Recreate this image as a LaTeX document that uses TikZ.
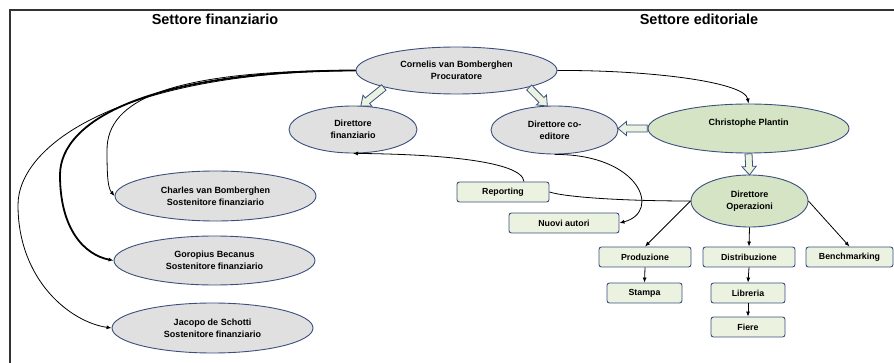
\documentclass[tikz,border=0pt]{standalone}
\usepackage{fontspec}
\setmainfont{Liberation Sans}
\usetikzlibrary{shapes.geometric,shapes.arrows,arrows.meta,calc}
\definecolor{bordc}{HTML}{3B4F7E}
\definecolor{grayfill}{HTML}{E0E0E0}
\definecolor{greenfill}{HTML}{D5E4C4}
\definecolor{boxfill}{HTML}{EBF2E0}
\definecolor{framec}{HTML}{333333}
\tikzset{
  ell/.style={ellipse, draw=bordc, line width=0.9pt, inner sep=0pt, align=center,
    font=\bfseries\fontsize{9}{12}\selectfont},
  grayell/.style={ell, fill=grayfill},
  greenell/.style={ell, fill=greenfill},
  box/.style={rectangle, rounded corners=2.5pt, draw=bordc, line width=0.9pt, fill=boxfill,
    minimum height=20pt, inner sep=0pt, font=\bfseries\fontsize{8.8}{10}\selectfont},
  title/.style={font=\bfseries\fontsize{14.5}{16}\selectfont},
  conn/.style={draw=black, line width=0.8pt, -{Latex[length=5pt,width=4pt]}},
  plainconn/.style={draw=black, line width=0.8pt},
  fatarr/.style={single arrow, draw=bordc, fill=boxfill, line width=0.8pt, inner sep=3.1pt,
    single arrow head extend=3.6pt, single arrow tip angle=80, anchor=tail},
  framel/.style={draw=framec, line width=2pt}
}
\newcommand\fatarrow[2]{%
  \path let \p1=(#1), \p2=(#2) in
    node[fatarr, rotate={atan2(\y2-\y1,\x2-\x1)},
      minimum height={veclen(\x2-\x1,\y2-\y1)}] at (\p1) {};}
\begin{document}
\begin{tikzpicture}[x=1pt,y=-1pt]
\useasboundingbox (0,0) rectangle (894,363);
\draw[framel] (9.5,363) -- (9.5,10.5) -- (894,10.5);

\node[title] (t1) at (215,19.5) {Settore finanziario};
\node[title] (t2) at (699,19.5) {Settore editoriale};

\node[grayell, minimum width=201pt, minimum height=47pt] (cor) at (456.5,70.5) {Cornelis van Bomberghen\\Procuratore};
\node[grayell, minimum width=128pt, minimum height=47pt] (dfin) at (353,129.5) {Direttore\\finanziario};
\node[grayell, minimum width=127pt, minimum height=48pt] (dco) at (554.5,130) {Direttore co-\\editore};
\node[greenell, minimum width=201pt, minimum height=49pt] (pla) at (748.5,128.5) {Christophe Plantin\\\phantom{X}};
\node[greenell, minimum width=117pt, minimum height=52pt] (ope) at (749.5,201) {Direttore\\Operazioni};
\node[grayell, minimum width=201pt, minimum height=50pt] (cha) at (215.5,196) {Charles van Bomberghen\\Sostenitore finanziario};
\node[grayell, minimum width=201pt, minimum height=49pt] (gor) at (214.5,260.5) {Goropius Becanus\\Sostenitore finanziario};
\node[grayell, minimum width=201pt, minimum height=50pt] (jac) at (212.5,328) {Jacopo de Schotti\\Sostenitore finanziario};

\node[box, minimum width=92pt] (rep) at (503,192) {Reporting};
\node[box, minimum width=110pt] (nuo) at (564,223) {Nuovi autori};
\node[box, minimum width=92pt] (pro) at (645,257) {Produzione};
\node[box, minimum width=92pt] (dis) at (749,257) {Distribuzione};
\node[box, minimum width=87pt] (ben) at (849.5,257) {Benchmarking};
\node[box, minimum width=75pt] (sta) at (644.5,293) {Stampa};
\node[box, minimum width=74pt] (lib) at (748,293) {Libreria};
\node[box, minimum width=74pt] (fie) at (748,327) {Fiere};

% block arrows
\fatarrow{cor.193}{dfin.71}
\fatarrow{cor.-13}{dco.107}
\fatarrow{pla.west}{pla.west -| dco.east}
\fatarrow{pla.south}{ope.north}

% connectors
\draw[conn] (cor.east) .. controls (650,70) and (745,82) .. (pla.north);
\draw[conn] (cor.west) .. controls (170,70) and (107,100) .. (107,150) .. controls (107,178) and (108,188) .. (cha.west);
\draw[conn, line width=1.8pt] (cor.west) .. controls (150,71) and (60,120) .. (60,175) .. controls (60,230) and (85,255) .. (gor.west);
\draw[conn] (cor.west) .. controls (120,72) and (18,145) .. (18,205) .. controls (18,280) and (70,322) .. (jac.west);
\draw[conn] (dco.south) .. controls (640,154) and (662,212) .. (nuo.east);
\draw[conn] ([xshift=21pt]rep.north) .. controls (522,160) and (430,154) .. (dfin.south);
\draw[plainconn] (rep.east) .. controls (565,197) and (620,201) .. (ope.west);
\draw[conn] (ope.west) -- (pro.north);
\draw[conn] (ope.south) -- (dis.north);
\draw[conn] (ope.east) -- (ben.north);
\draw[conn] (pro.south) -- (sta.north);
\draw[conn] (dis.south) -- (lib.north);
\draw[conn] (lib.south) -- (fie.north);
\end{tikzpicture}
\end{document}
